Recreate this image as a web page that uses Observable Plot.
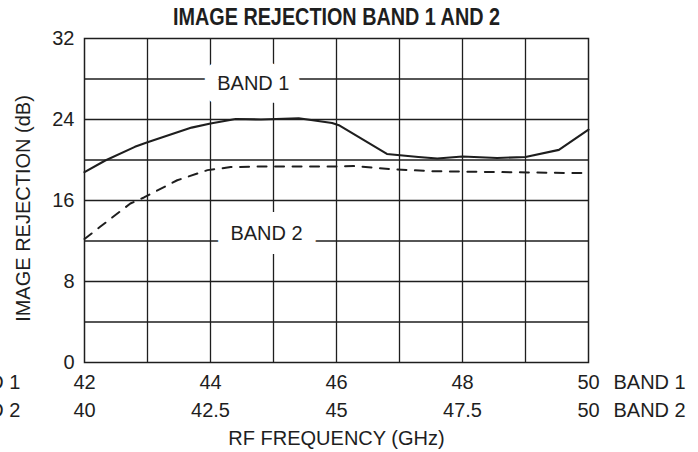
<!DOCTYPE html>
<html>
<head>
<meta charset="utf-8">
<script src="https://cdn.jsdelivr.net/npm/d3@7"></script>
<script src="https://cdn.jsdelivr.net/npm/@observablehq/plot@0.6"></script>
<style>
  html, body { margin: 0; padding: 0; background: white; }
</style>
</head>
<body>
<div id="chart"></div>
<script>
// Band 1 (solid), frequency in GHz (band-1 axis)
const band1Freq = [42, 42.33, 42.8, 43, 43.7, 44, 44.4, 44.8, 45.4, 45.93, 46.05, 46.8, 47.3, 47.6, 48, 48.55, 49, 49.53, 50];
const band1DB   = [18.8, 19.95, 21.3, 21.75, 23.2, 23.6, 24.05, 24.0, 24.13, 23.65, 23.4, 20.6, 20.3, 20.15, 20.35, 20.2, 20.3, 21.0, 23.0];
// Band 2 (dashed), frequency in GHz (band-2 axis)
const band2Freq = [40, 40.31, 40.91, 41.18, 41.84, 42.44, 42.9, 43.49, 44.98, 45.34, 46.08, 46.86, 48.79, 50];
const band2DB   = [12.2, 13.4, 15.7, 16.3, 18.0, 19.0, 19.3, 19.36, 19.36, 19.4, 19.1, 18.9, 18.77, 18.7];

const yTicks = [0, 8, 16, 24, 32];
const yGrid = [4, 8, 12, 16, 20, 24, 28];
const band1Ticks = [42, 44, 46, 48, 50];
const band1TickLabels = ["42", "44", "46", "48", "50"];
const band2Ticks = [40, 42.5, 45, 47.5, 50];
const band2TickLabels = ["40", "42.5", "45", "47.5", "50"];
const xGrid = [43, 44, 45, 46, 47, 48, 49];

const title = "IMAGE REJECTION BAND 1 AND 2";
const yLabel = "IMAGE REJECTION (dB)";
const xLabel = "RF FREQUENCY (GHz)";
const curveLabels = ["BAND 1", "BAND 2"];
const curveLabelFreq = [44.68, 44.89]; // band-1 axis
const curveLabelDB = [27.55, 12.74];

// band-2 frequency mapped onto the shared (band-1) axis
const toAxis = f => 42 + (f - 40) * 0.8;

const band1 = band1Freq.map((f, i) => ({f, db: band1DB[i]}));
const band2 = band2Freq.map((f, i) => ({f, db: band2DB[i]}));
const labels = curveLabels.map((t, i) => ({t, f: curveLabelFreq[i], db: curveLabelDB[i]}));

const FONT = "'Liberation Sans', Arial, sans-serif";
const FS = 20;
const INK = "#1e1e1e";
const common = {fill: INK, fontSize: FS, lineAnchor: "middle"};

const chart = Plot.plot({
  width: 698,
  height: 452,
  marginLeft: 84,
  marginRight: 110,
  marginTop: 38,
  marginBottom: 90,
  x: {domain: [42, 50], axis: null},
  y: {domain: [0, 32], axis: null},
  style: {fontFamily: FONT, fontSize: FS + "px", background: "white", color: INK},
  marks: [
    Plot.ruleX(xGrid, {x: d => d, stroke: INK, strokeWidth: 1.3}),
    Plot.ruleY(yGrid, {y: d => d, stroke: INK, strokeWidth: 1.3}),
    Plot.frame({stroke: INK, strokeWidth: 1.5}),
    Plot.text(labels, {x: "f", y: "db", text: "t", stroke: "white", strokeWidth: 28, ...common}),
    Plot.line(band2, {x: d => toAxis(d.f), y: "db", stroke: INK, strokeWidth: 2, strokeDasharray: "9,8.5"}),
    Plot.line(band1, {x: "f", y: "db", stroke: INK, strokeWidth: 2.1}),
    // y tick labels
    Plot.text(yTicks, {y: d => d, text: d => String(d), frameAnchor: "left", dx: -10, textAnchor: "end", ...common}),
    // x tick labels, band 1 row
    Plot.text(band1Ticks, {x: d => d, text: (d, i) => band1TickLabels[i], frameAnchor: "bottom", dy: 20, textAnchor: "middle", ...common}),
    // x tick labels, band 2 row
    Plot.text(band2Ticks, {x: d => toAxis(d), text: (d, i) => band2TickLabels[i], frameAnchor: "bottom", dy: 48, textAnchor: "middle", ...common}),
    // row names right
    Plot.text([curveLabels[0]], {frameAnchor: "bottom-right", dx: 25, dy: 20, textAnchor: "start", ...common}),
    Plot.text([curveLabels[1]], {frameAnchor: "bottom-right", dx: 25, dy: 48, textAnchor: "start", ...common}),
    // row names left (cropped at the edge as in the original)
    Plot.text([curveLabels[0]], {frameAnchor: "bottom-left", dx: -64, dy: 20, textAnchor: "end", ...common}),
    Plot.text([curveLabels[1]], {frameAnchor: "bottom-left", dx: -64, dy: 48, textAnchor: "end", ...common}),
    // title
    Plot.text([title], {frameAnchor: "top", dy: -21, textAnchor: "middle", fontWeight: "bold", className: "chart-title", ...common, fontSize: 24}),
    // y axis label
    Plot.text([yLabel], {frameAnchor: "left", dx: -61, dy: 8, rotate: -90, textAnchor: "middle", ...common}),
    // x axis label
    Plot.text([xLabel], {frameAnchor: "bottom", dy: 76, textAnchor: "middle", ...common})
  ]
});

// condense the bold title to the original's narrow width
chart.querySelectorAll("g.chart-title text, .chart-title text").forEach(t => {
  t.setAttribute("textLength", 327);
  t.setAttribute("lengthAdjust", "spacingAndGlyphs");
});

document.getElementById("chart").appendChild(chart);
</script>
</body>
</html>
